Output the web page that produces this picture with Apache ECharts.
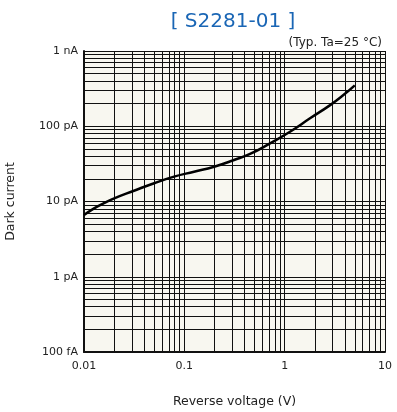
<!DOCTYPE html>
<html>
<head>
<meta charset="utf-8">
<script src="https://cdn.jsdelivr.net/npm/echarts@6/dist/echarts.min.js"></script>
<style>html,body{margin:0;padding:0;background:#fff}#c{width:397px;height:412px}</style>
</head>
<body>
<div id="c"></div>
<script>
// Reverse voltage (V)
var voltage = [0.01, 0.0126, 0.0158, 0.02, 0.0315, 0.05, 0.079, 0.125, 0.198, 0.313, 0.452, 0.715, 1.13, 1.79, 2.84, 3.85, 5.0];
// Dark current (pA)
var darkCurrent = [6.6, 8.1, 9.5, 11.0, 13.9, 17.5, 21.4, 24.9, 29.0, 35.6, 42.8, 59.3, 84.6, 127.5, 191, 260, 350];
var xTickLabels = {0.01: '0.01', 0.1: '0.1', 1: '1', 10: '10'};
var yTickLabels = {0.1: '100 fA', 1: '1 pA', 10: '10 pA', 100: '100 pA', 1000: '1 nA'};

function labelFor(map, v) {
  for (var k in map) { if (Math.abs(Math.log10(v) - Math.log10(+k)) < 1e-6) return map[k]; }
  return '';
}
var xMinor = [], yMinor = [];
[0.01, 0.1, 1].forEach(function (d) { for (var i = 2; i <= 9; i++) xMinor.push({xAxis: +(d * i).toPrecision(3)}); });
[0.1, 1, 10, 100].forEach(function (d) { for (var i = 2; i <= 9; i++) yMinor.push({yAxis: +(d * i).toPrecision(3)}); });

var chart = echarts.init(document.getElementById('c'), null, {renderer: 'canvas'});
var font = 'DejaVu Sans';
chart.setOption({
  backgroundColor: '#ffffff',
  animation: false,
  title: [
    {text: '[ S2281-01 ]', left: 228, top: 7, textAlign: 'center',
     textStyle: {fontFamily: font, fontSize: 20, fontWeight: 'normal', color: '#1a66b5'}},
    {text: '(Typ. Ta=25 °C)', right: 10, top: 32,
     textStyle: {fontFamily: font, fontSize: 12, fontWeight: 'normal', color: '#222'}}
  ],
  grid: {left: 84, right: 12, top: 51, bottom: 60, show: true, backgroundColor: '#f8f7f0', borderWidth: 0,
         containLabel: false, outerBoundsMode: 'none'},
  xAxis: {
    type: 'log', logBase: 10, min: 0.01, max: 10,
    name: 'Reverse voltage (V)', nameLocation: 'middle', nameGap: 43,
    nameTextStyle: {fontFamily: font, fontSize: 12.5, color: '#222'},
    axisLine: {show: true, lineStyle: {color: '#111', width: 2}},
    axisTick: {show: false},
    axisLabel: {fontFamily: font, fontSize: 11, color: '#222', margin: 9,
      formatter: function (v) { return labelFor(xTickLabels, v); }},
    splitLine: {show: true, lineStyle: {color: '#111', width: 1}}
  },
  yAxis: {
    type: 'log', logBase: 10, min: 0.1, max: 1000,
    name: 'Dark current', nameLocation: 'middle', nameGap: 67,
    nameTextStyle: {fontFamily: font, fontSize: 12.5, color: '#222'},
    axisLine: {show: true, lineStyle: {color: '#111', width: 2}},
    axisTick: {show: false},
    axisLabel: {fontFamily: font, fontSize: 11, color: '#222', margin: 6,
      formatter: function (v) { return labelFor(yTickLabels, v); }},
    splitLine: {show: true, lineStyle: {color: '#111', width: 1}}
  },
  series: [{
    type: 'line',
    data: voltage.map(function (v, i) { return [v, darkCurrent[i]]; }),
    smooth: true, showSymbol: false, symbol: 'none',
    lineStyle: {color: '#000', width: 2.5},
    z: 5,
    markLine: {
      silent: true, symbol: 'none', animation: false,
      label: {show: false},
      lineStyle: {color: '#111', width: 1, type: 'solid'},
      data: xMinor.concat(yMinor)
    }
  }]
});
</script>
</body>
</html>
